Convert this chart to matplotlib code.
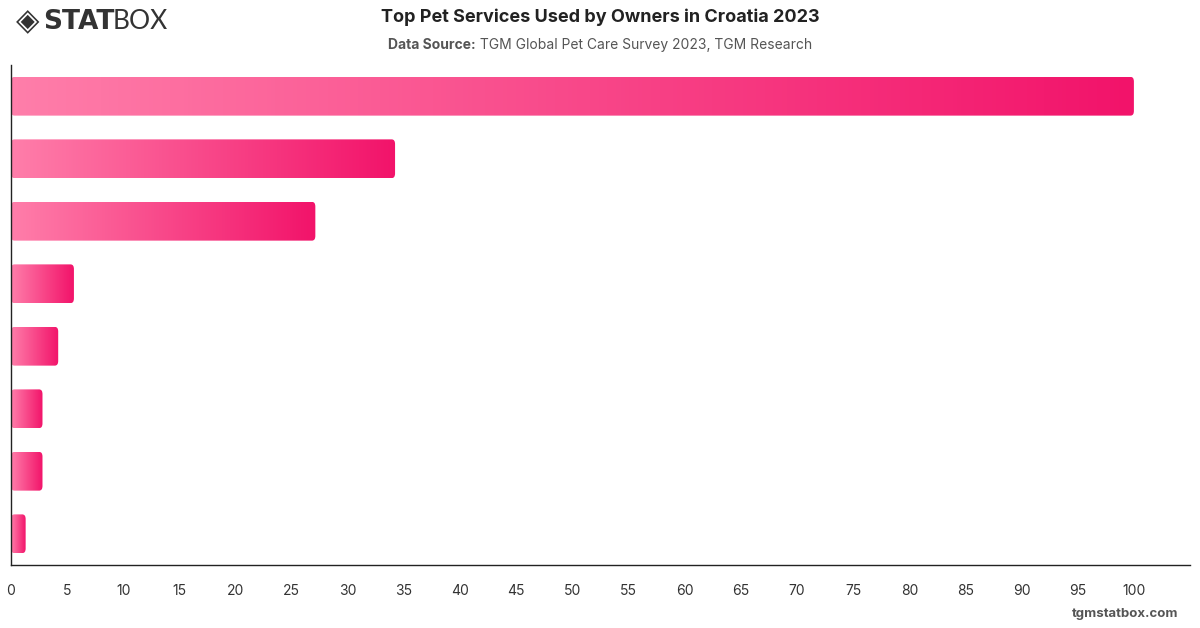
import numpy as np
import matplotlib
matplotlib.use("Agg")
import matplotlib.pyplot as plt
from matplotlib.colors import LinearSegmentedColormap
from matplotlib.patches import FancyBboxPatch

plt.rcParams['font.family'] = ['Inter', 'DejaVu Sans']

# data (labels are not shown on the chart)
services = ["Veterinary care", "Grooming", "Pet insurance", "Pet sitting",
            "Dog walking", "Training", "Pet hotel", "Daycare"]
shares = [100, 34.2, 27.1, 5.6, 4.2, 2.8, 2.8, 1.3]
x_ticks = list(range(0, 101, 5))

fig = plt.figure(figsize=(12, 6.28), dpi=100)
ax = fig.add_axes([0.0092, 0.1003, 0.9825, 0.7962])

cmap = LinearSegmentedColormap.from_list("pink", ["#ff7eaa", "#f2136a"])
grad = np.linspace(0, 1, 256).reshape(1, -1)
bar_h = 0.62

for i, v in enumerate(shares):
    box = FancyBboxPatch((0, i - bar_h / 2), v, bar_h,
                         boxstyle="round,pad=0,rounding_size=0.3",
                         mutation_aspect=0.25,
                         facecolor="none", edgecolor="none")
    ax.add_patch(box)
    im = ax.imshow(grad, cmap=cmap, aspect="auto", interpolation="bicubic",
                   extent=(0, v, i + bar_h / 2, i - bar_h / 2), zorder=2)
    im.set_clip_path(box)

ax.set_xlim(0, 105)
ax.set_ylim(len(shares) - 0.5, -0.5)
ax.set_xticks(x_ticks)
ax.set_yticks([])
ax.tick_params(axis="x", length=0, pad=14, labelsize=10, labelcolor="#333333")
for s in ["top", "right"]:
    ax.spines[s].set_visible(False)
for s in ["left", "bottom"]:
    ax.spines[s].set_color("#222222")
    ax.spines[s].set_linewidth(1)

# titles
fig.text(0.5, 0.972, "Top Pet Services Used by Owners in Croatia 2023",
         ha="center", va="center", fontsize=13, fontweight="bold", color="#222222")

r = fig.canvas.get_renderer()
t1 = fig.text(0, 0.929, "Data Source:", ha="left", va="center",
              fontsize=10, fontweight="bold", color="#555555")
t2 = fig.text(0, 0.929, " TGM Global Pet Care Survey 2023, TGM Research",
              ha="left", va="center", fontsize=10, color="#555555")
w1 = t1.get_window_extent(r).width / fig.bbox.width
w2 = t2.get_window_extent(r).width / fig.bbox.width
x0 = 0.5 - (w1 + w2) / 2
t1.set_x(x0)
t2.set_x(x0 + w1)

# logo
fig.text(0.013, 0.965, "\u25c8", ha="left", va="center", fontsize=22,
         color="#333333", family="DejaVu Sans")
fig.text(0.036, 0.965, "STAT", ha="left", va="center", fontsize=19,
         fontweight="heavy", color="#333333", family="DejaVu Sans")
fig.text(0.094, 0.965, "BOX", ha="left", va="center", fontsize=19,
         fontweight="normal", color="#333333", family=["Lato", "DejaVu Sans"])

fig.text(0.982, 0.022, "tgmstatbox.com", ha="right", va="center",
         fontsize=9.5, fontweight="bold", color="#555555")

fig.savefig("out.png", dpi=100)
